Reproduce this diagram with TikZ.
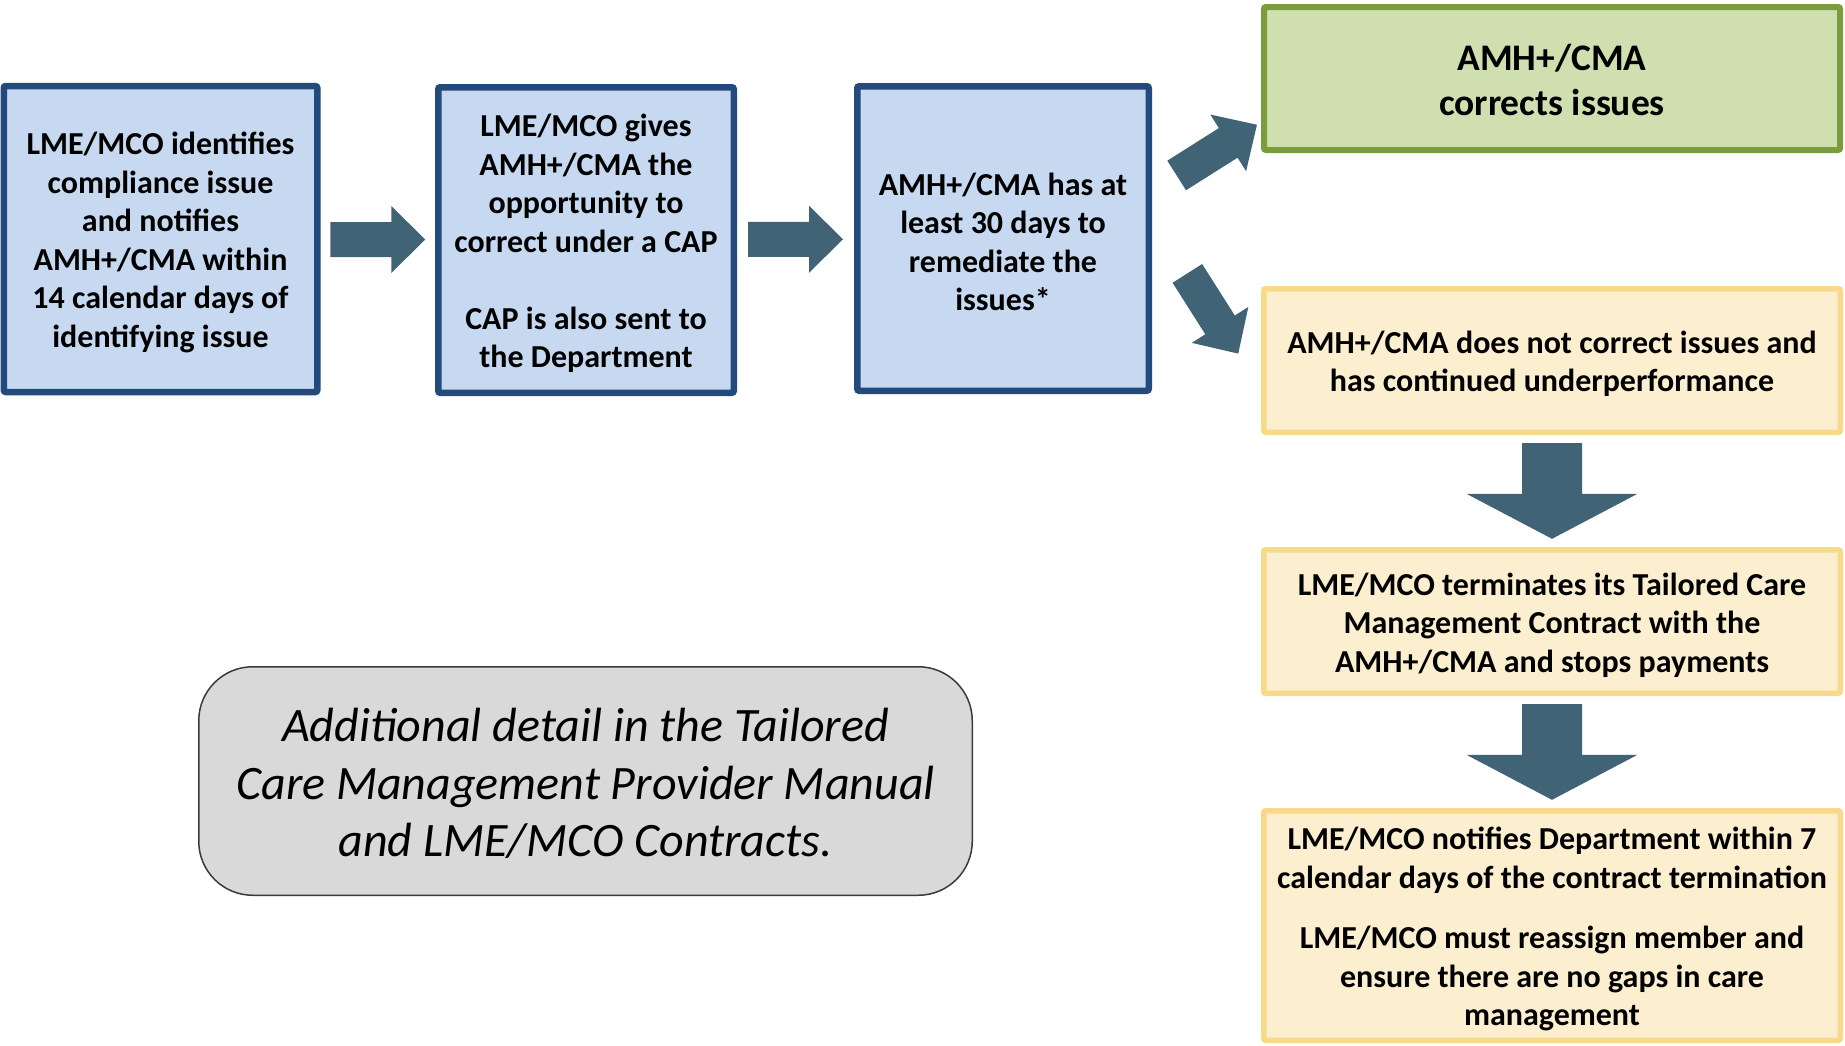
\documentclass[tikz,border=0pt]{standalone}
\usepackage{fontspec}
\setmainfont{Carlito}
\usetikzlibrary{calc}
\definecolor{bluefill}{HTML}{C6D9F1}
\definecolor{blueline}{HTML}{23497D}
\definecolor{greenfill}{HTML}{D0DFB0}
\definecolor{greenline}{HTML}{7A9C3E}
\definecolor{yellowfill}{HTML}{FCEFD0}
\definecolor{yellowline}{HTML}{F8D889}
\definecolor{greyfill}{HTML}{D9D9D9}
\definecolor{greyline}{HTML}{3A3A3A}
\definecolor{arrowfill}{HTML}{406375}
\tikzset{
  box/.style={draw, rectangle, rounded corners=2pt, inner sep=0pt},
  boxtext/.style={align=center, inner sep=0pt, font=\bfseries\fontsize{32}{38.5}\selectfont},
  bluebox/.style={box, fill=bluefill, draw=blueline, line width=6.5pt},
  greenbox/.style={box, fill=greenfill, draw=greenline, line width=6pt,
    minimum width=576pt, minimum height=143pt},
  greentext/.style={boxtext, font=\bfseries\fontsize{37.5}{45}\selectfont},
  yellowbox/.style={box, fill=yellowfill, draw=yellowline, line width=5.5pt,
    minimum width=576.5pt},
  notebox/.style={draw=greyline, fill=greyfill, line width=1.5pt, rounded corners=54pt,
    inner sep=0pt, minimum width=773.5pt, minimum height=228.5pt},
  notetext/.style={align=center, inner sep=0pt, font=\itshape\fontsize{48}{57.7}\selectfont},
  harrow/.pic={\fill[arrowfill] (-47.5,-17.5) -- (13.5,-17.5) -- (13.5,-33.5) -- (47.5,0)
     -- (13.5,33.5) -- (13.5,17.5) -- (-47.5,17.5) -- cycle;},
  varrow/.pic={\fill[arrowfill] (-30,-47.8) -- (30,-47.8) -- (30,2.8) -- (85.5,2.8)
     -- (0,47.8) -- (-85.5,2.8) -- (-30,2.8) -- cycle;}
}
\begin{document}
\begin{tikzpicture}[x=1pt,y=-1pt]
\useasboundingbox (0,0) rectangle (1845,1045);

% boxes
\node[bluebox, minimum width=313.5pt, minimum height=306pt] (b1) at (160.5,239) {};
\node[bluebox, minimum width=295.5pt, minimum height=305.5pt] (b2) at (586,240) {};
\node[bluebox, minimum width=291.5pt, minimum height=304.5pt] (b3) at (1003,238.5) {};
\node[greenbox] (g) at (1552,78.5) {};
\node[yellowbox, minimum height=143.5pt] (y1) at (1552,360.5) {};
\node[yellowbox, minimum height=143.5pt] (y2) at (1552,621.5) {};
\node[yellowbox, minimum height=229.5pt] (y3) at (1552,925.5) {};
\node[notebox] (note) at (585.5,781) {};

% texts
\node[boxtext] (b1t) at ($(b1.center)+(0,3.5)$)
  {LME/MCO identifies\\compliance issue\\and notifies\\AMH+/CMA within\\14 calendar days of\\identifying issue};
\node[boxtext] (b2t) at ($(b2.center)+(0,3.5)$)
  {LME/MCO gives\\AMH+/CMA the\\opportunity to\\correct under a CAP\\[38.5pt]CAP is also sent to\\the Department};
\node[boxtext] (b3t) at ($(b3.center)+(0,3.5)$)
  {AMH+/CMA has at\\least 30 days to\\remediate the\\issues*};
\node[greentext] (gt) at ($(g.center)+(0,1.5)$) {AMH+/CMA\\corrects issues};
\node[boxtext] (y1t) at ($(y1.center)+(0,3.5)$)
  {AMH+/CMA does not correct issues and\\has continued underperformance};
\node[boxtext] (y2t) at ($(y2.center)+(0,3.5)$)
  {LME/MCO terminates its Tailored Care\\Management Contract with the\\AMH+/CMA and stops payments};
\node[boxtext] (y3t) at ($(y3.center)+(0,3.5)$)
  {LME/MCO notifies Department within 7\\calendar days of the contract termination\\[22pt]LME/MCO must reassign member and\\ensure there are no gaps in care\\management};
\node[notetext] (notet) at ($(note.center)+(0,2.5)$)
  {Additional detail in the Tailored\\Care Management Provider Manual\\and LME/MCO Contracts.};

% connectors (block arrows)
\pic at ($(b1.east)!0.5!(b2.west)$) {harrow};
\pic at ($(b2.east)!0.5!(b3.west)$) {harrow};
\pic[rotate=32.3] at ($(b3.east)+(64.8,-88.4)$) {harrow};
\pic[rotate=-57.6] at ($(b3.east)+(60.8,75)$) {harrow};
\pic at ($(y1.south)!0.5!(y2.north)$) {varrow};
\pic at ($(y2.south)!0.5!(y3.north)$) {varrow};
\end{tikzpicture}
\end{document}
